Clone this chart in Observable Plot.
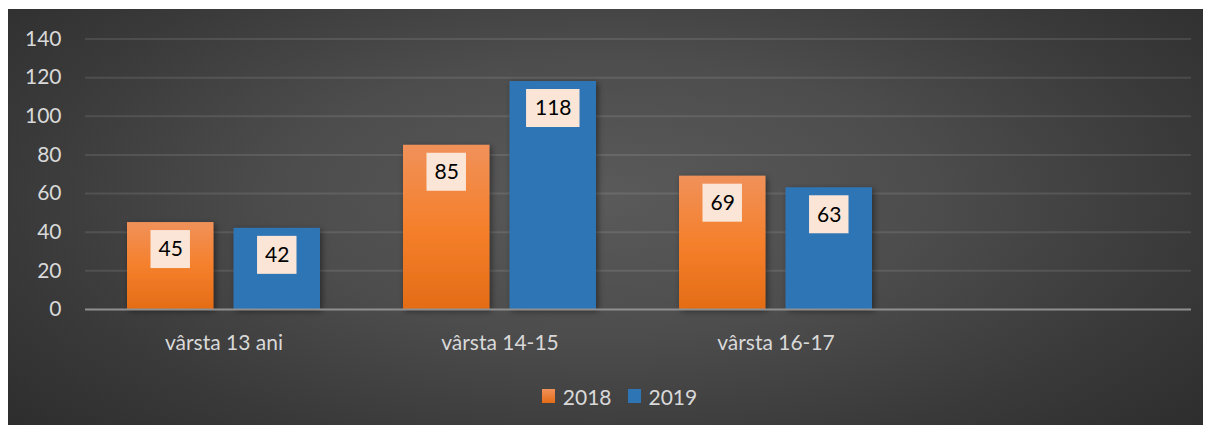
<!DOCTYPE html>
<html>
<head>
<meta charset="utf-8">
<script src="https://cdn.jsdelivr.net/npm/d3@7"></script>
<script src="https://cdn.jsdelivr.net/npm/@observablehq/plot@0.6"></script>
<style>
  html, body { margin: 0; padding: 0; background: #ffffff; }
  #bg {
    position: absolute; left: 8px; top: 9px; width: 1195px; height: 416px;
    background: radial-gradient(ellipse 75% 95% at 50% 45%, #5a5a5a 0%, #4d4d4d 35%, #3a3a3a 65%, #272727 100%);
  }
  #chart { position: absolute; left: 0; top: 0; }
  #legend {
    position: absolute; top: 382px; left: 0; width: 1239px; text-align: center;
    font-family: Lato, sans-serif; font-size: 21px; color: #D9D9D9;
  }
  #legend span.item { display: inline-flex; align-items: center; margin: 0 8px; }
  #legend span.sw { display: inline-block; width: 13px; height: 14px; margin-right: 8px; }
</style>
</head>
<body>
<div id="bg"></div>
<div id="chart"></div>
<div id="legend"></div>
<script>
const categories = ["vârsta 13 ani", "vârsta 14-15", "vârsta 16-17"];
const seriesNames = ["2018", "2019"];
const values2018 = [45, 85, 69];
const values2019 = [42, 118, 63];
const yTicks = [0, 20, 40, 60, 80, 100, 120, 140];
const seriesColors = ["#F2812E", "#2E75B6"];

const data = categories.flatMap((c, i) => [
  {cat: c, series: seriesNames[0], value: values2018[i]},
  {cat: c, series: seriesNames[1], value: values2019[i]}
]);
const d2018 = data.filter(d => d.series === seriesNames[0]);
const d2019 = data.filter(d => d.series === seriesNames[1]);

const W = 1209, mL = 85, mR = 18;
const step = (W - mL - mR) / 4;
const bw = step * 0.7;       // group width
const barW = 87;
const gapIn = bw - 2 * barW;

const plot = Plot.plot({
  width: W,
  height: 370,
  marginLeft: mL,
  marginRight: mR,
  marginTop: 38.5,
  marginBottom: 61,
  style: {background: "transparent", color: "#D9D9D9", fontFamily: "Lato, sans-serif", fontSize: "21px", overflow: "visible"},
  x: {domain: [...categories, " "], paddingInner: 0.3, paddingOuter: 0.15, label: null, tickSize: 0, tickPadding: 26},
  y: {domain: [0, 140], ticks: yTicks, label: null, tickSize: 0, tickPadding: 24},
  marks: [
    Plot.gridY(yTicks.filter(t => t > 0), {stroke: "#ffffff", strokeOpacity: 0.1, strokeWidth: 2}),
    Plot.barY(d2018, {x: "cat", y: "value", fill: "url(#og)", insetLeft: 0, insetRight: bw - barW}),
    Plot.barY(d2019, {x: "cat", y: "value", fill: seriesColors[1], insetLeft: bw - barW, insetRight: 0}),
    Plot.ruleY([0], {stroke: "#8f8f8f", strokeWidth: 2}),
    // label boxes
    Plot.barY(d2018, {x: "cat", y1: "value", y2: "value", fill: "#FBE5D6", insetTop: 8, insetBottom: -46,
      insetLeft: (barW - 40) / 2, insetRight: bw - barW + (barW - 40) / 2}),
    Plot.barY(d2019.filter(d => d.value < 100), {x: "cat", y1: "value", y2: "value", fill: "#FBE5D6", insetTop: 8, insetBottom: -46,
      insetLeft: bw - barW + (barW - 40) / 2, insetRight: (barW - 40) / 2}),
    Plot.barY(d2019.filter(d => d.value >= 100), {x: "cat", y1: "value", y2: "value", fill: "#FBE5D6", insetTop: 8, insetBottom: -46,
      insetLeft: bw - barW + (barW - 54) / 2, insetRight: (barW - 54) / 2}),
    Plot.text(d2018, {x: "cat", y: "value", text: d => String(d.value), dx: -(barW + gapIn) / 2, dy: 27, fill: "#000000", fontSize: 21}),
    Plot.text(d2019, {x: "cat", y: "value", text: d => String(d.value), dx: (barW + gapIn) / 2, dy: 27, fill: "#000000", fontSize: 21})
  ]
});

const svg = d3.select(plot);
const defs = svg.insert("defs", ":first-child");
const g = defs.append("linearGradient").attr("id", "og").attr("x1", 0).attr("y1", 0).attr("x2", 0).attr("y2", 1);
g.append("stop").attr("offset", "0%").attr("stop-color", "#F0915A");
g.append("stop").attr("offset", "50%").attr("stop-color", "#F5802C");
g.append("stop").attr("offset", "100%").attr("stop-color", "#E46C16");
const f = defs.append("filter").attr("id", "sh").attr("x", "-20%").attr("y", "-20%").attr("width", "140%").attr("height", "140%");
f.append("feDropShadow").attr("dx", 2).attr("dy", 2).attr("stdDeviation", 3).attr("flood-color", "#000").attr("flood-opacity", 0.45);
svg.selectAll('g[aria-label="bar"]').filter((d, i) => i < 2).attr("filter", "url(#sh)");

document.getElementById("chart").appendChild(plot);

const legend = document.getElementById("legend");
legend.innerHTML = seriesNames.map((s, i) =>
  `<span class="item"><span class="sw" style="background:${i === 0 ? "linear-gradient(#F0915A,#E46C16)" : seriesColors[i]}"></span>${s}</span>`
).join("");
</script>
</body>
</html>
